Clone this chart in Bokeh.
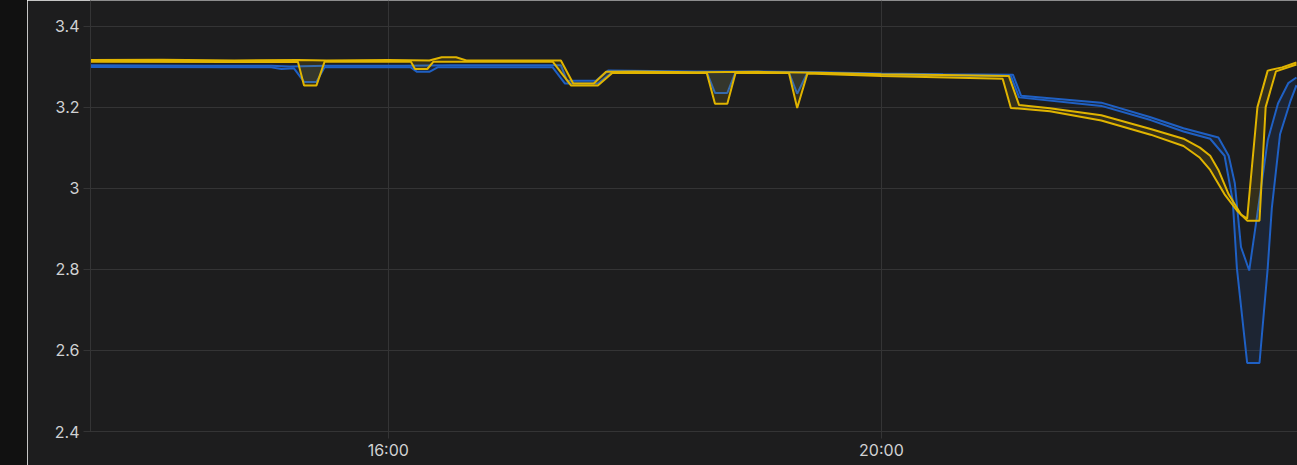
import pandas as pd
from bokeh.plotting import figure
from bokeh.layouts import row
from bokeh.models import Div, FixedTicker, DatetimeTickFormatter, CustomJSTickFormatter, Range1d
from bokeh.embed import file_html
from bokeh.resources import INLINE

day = "2024-03-12 "

# gold series (max / min)
gold_hi_t = ["13:35", "14:10", "14:45", "15:16", "15:30", "16:00", "16:20", "16:26", "16:33", "16:38",
             "17:00", "17:24", "17:30", "17:40", "17:46", "18:00", "18:30", "19:00", "19:30", "20:00",
             "20:30", "21:02", "21:07", "21:22", "21:47", "22:11", "22:27", "22:35", "22:40", "22:44",
             "22:49", "22:55", "22:58", "23:03", "23:08", "23:15", "23:22"]
gold_hi_v = [3.316, 3.317, 3.315, 3.316, 3.315, 3.316, 3.315, 3.323, 3.323, 3.315,
             3.315, 3.315, 3.258, 3.258, 3.287, 3.288, 3.286, 3.287, 3.285, 3.281,
             3.279, 3.277, 3.205, 3.197, 3.180, 3.146, 3.122, 3.100, 3.080, 3.045,
             2.985, 2.935, 2.925, 3.200, 3.290, 3.298, 3.310]

gold_lo_t = ["13:35", "14:45", "15:16", "15:19", "15:25", "15:29", "16:11", "16:13", "16:19", "16:22",
             "17:20", "17:29", "17:42", "17:49", "18:35", "18:39", "18:45", "18:49", "19:15", "19:19",
             "19:24", "20:00", "20:59", "21:03", "21:22", "21:47", "22:11", "22:27", "22:35", "22:40",
             "22:47", "22:53", "22:58", "23:04", "23:07", "23:12", "23:22"]
gold_lo_v = [3.312, 3.311, 3.312, 3.253, 3.253, 3.312, 3.312, 3.294, 3.294, 3.312,
             3.312, 3.253, 3.253, 3.284, 3.284, 3.208, 3.208, 3.284, 3.284, 3.198,
             3.283, 3.277, 3.270, 3.198, 3.190, 3.167, 3.132, 3.104, 3.075, 3.045,
             2.985, 2.945, 2.920, 2.920, 3.200, 3.288, 3.305]

# blue series (max / min)
blue_hi_t = ["13:35", "14:30", "15:03", "15:12", "15:30", "16:08", "16:30", "17:24", "17:27", "17:41",
             "17:47", "18:30", "19:00", "19:30", "20:00", "20:30", "21:04", "21:08", "21:47", "22:11",
             "22:27", "22:44", "22:49", "22:52", "22:55", "22:59", "23:03", "23:08", "23:13", "23:18",
             "23:22"]
blue_hi_v = [3.303, 3.302, 3.302, 3.300, 3.302, 3.302, 3.303, 3.303, 3.265, 3.265,
             3.290, 3.288, 3.288, 3.286, 3.283, 3.281, 3.280, 3.228, 3.211, 3.175,
             3.148, 3.125, 3.080, 3.012, 2.855, 2.797, 2.938, 3.118, 3.209, 3.259,
             3.273]

blue_lo_t = ["13:35", "15:03", "15:08", "15:14", "15:19", "15:25", "15:29", "16:11", "16:14", "16:20",
             "16:24", "17:20", "17:26", "17:42", "17:49", "18:35", "18:39", "18:45", "18:49", "19:15",
             "19:19", "19:24", "20:00", "21:03", "21:07", "21:47", "22:11", "22:27", "22:40", "22:47",
             "22:51", "22:53", "22:58", "23:04", "23:08", "23:10", "23:14", "23:19", "23:22"]
blue_lo_v = [3.299, 3.298, 3.294, 3.296, 3.262, 3.262, 3.298, 3.298, 3.287, 3.287,
             3.298, 3.298, 3.258, 3.258, 3.286, 3.286, 3.235, 3.235, 3.286, 3.285,
             3.233, 3.285, 3.280, 3.277, 3.224, 3.203, 3.168, 3.140, 3.122, 3.080,
             2.968, 2.803, 2.569, 2.569, 2.803, 2.951, 3.133, 3.214, 3.254]

x_ticks = ["16:00", "20:00"]
y_ticks = [2.4, 2.6, 2.8, 3.0, 3.2, 3.4]


def ts(times):
    return list(pd.to_datetime([day + t for t in times]))


bg = "#1d1d1e"
grid = "#343435"
txt = "#d0d1d3"

p = figure(width=1270, height=465, x_axis_type="datetime", output_backend="svg",
           toolbar_location=None, min_border_left=63, min_border_right=0, min_border_top=0,
           min_border_bottom=34)
p.x_range = Range1d(pd.Timestamp(day + "13:35:04"), pd.Timestamp(day + "23:22:30"))
p.y_range = Range1d(2.4, 3.4629)

p.background_fill_color = bg
p.border_fill_color = bg
p.outline_line_color = None

# blue band
bx = ts(blue_hi_t) + ts(blue_lo_t)[::-1]
by = blue_hi_v + blue_lo_v[::-1]
p.patch(bx, by, fill_color="#1f60c4", fill_alpha=0.13, line_color=None)
p.line(ts(blue_hi_t), blue_hi_v, line_color="#1f60c4", line_width=2)
p.line(ts(blue_lo_t), blue_lo_v, line_color="#1f60c4", line_width=2)

# gold band
gx = ts(gold_hi_t) + ts(gold_lo_t)[::-1]
gy = gold_hi_v + gold_lo_v[::-1]
p.patch(gx, gy, fill_color="#e0b400", fill_alpha=0.12, line_color=None)
p.line(ts(gold_hi_t), gold_hi_v, line_color="#e0b400", line_width=2)
p.line(ts(gold_lo_t), gold_lo_v, line_color="#e0b400", line_width=2)

p.xaxis.ticker = FixedTicker(ticks=[pd.Timestamp(day + t).timestamp() * 1000 for t in x_ticks])
p.xaxis.formatter = DatetimeTickFormatter(hours="%H:%M", minutes="%H:%M", days="%H:%M", hourmin="%H:%M")
p.yaxis.ticker = FixedTicker(ticks=y_ticks)
p.yaxis.formatter = CustomJSTickFormatter(code="return String(Math.round(tick * 10) / 10)")

for ax in (p.xaxis, p.yaxis):
    ax.axis_line_color = grid
    ax.major_tick_line_color = grid
    ax.major_tick_out = 7
    ax.major_tick_in = 0
    ax.minor_tick_line_color = None
    ax.major_label_text_color = txt
    ax.major_label_text_font = "Inter"
    ax.major_label_text_font_size = "16px"
p.yaxis.major_label_standoff = 4
p.xaxis.major_label_standoff = 1

p.xgrid.grid_line_color = grid
p.ygrid.grid_line_color = grid

strip = Div(width=27, height=465, margin=0, styles={"background-color": "#111111"})
layout = row(strip, p, spacing=0)

open("out.html", "w").write(file_html(layout, INLINE))
